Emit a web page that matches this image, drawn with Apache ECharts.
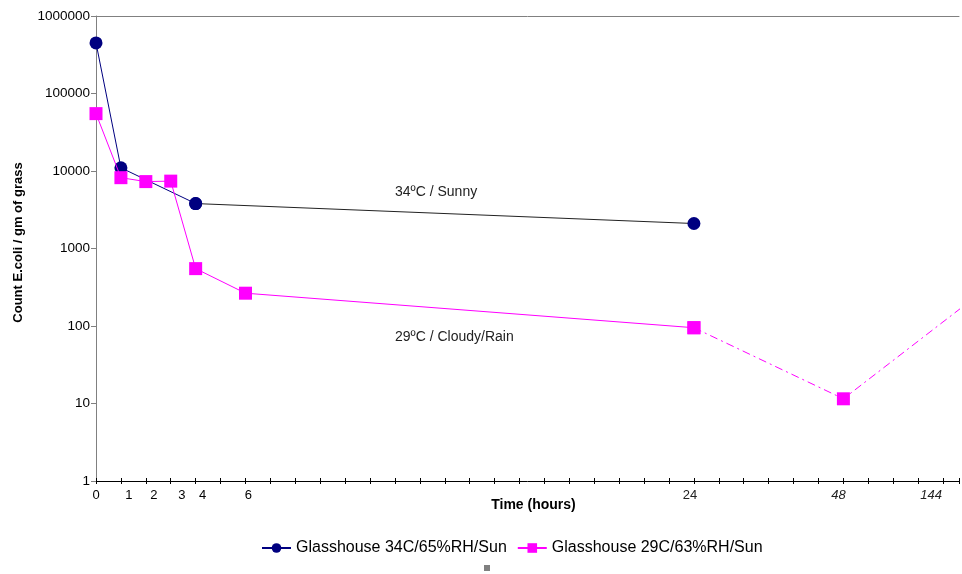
<!DOCTYPE html>
<html>
<head>
<meta charset="utf-8">
<script src="https://cdn.jsdelivr.net/npm/echarts@6/dist/echarts.min.js"></script>
<style>
  html, body { margin: 0; padding: 0; background: #fff; }
  #chart { width: 962px; height: 574px; }
</style>
</head>
<body>
<div id="chart"></div>
<script>
// Axis positions (one unit per tick) and their labels
const tickPositions = [0, 1, 2, 3, 4, 6, 24, 30, 34];
const tickLabels = ['0', '1', '2', '3', '4', '6', '24', '48', '144'];

// Series 1: Glasshouse 34C/65%RH/Sun
const sunnyX = [0, 1, 4, 24];
const sunnyY = [450000, 11000, 3800, 2100];

// Series 2: Glasshouse 29C/63%RH/Sun
const cloudyX = [0, 1, 2, 3, 4, 6, 24, 30, 35];
const cloudyY = [55000, 8200, 7300, 7400, 550, 265, 95, 11.5, 200];

const seriesNames = ['Glasshouse 34C/65%RH/Sun', 'Glasshouse 29C/63%RH/Sun'];

const labelShift = { 0: 0, 1: 8, 2: 8, 3: 11, 4: 7, 6: 3, 24: -4, 30: -5, 34: -12 };
const italicPos = [30, 34];

const rich = {};
tickPositions.forEach(p => {
  const d = labelShift[p] || 0;
  rich['p' + p] = {
    fontFamily: 'Liberation Sans, Arial, sans-serif',
    fontSize: 13,
    color: p >= 24 ? '#222' : '#000',
    fontStyle: italicPos.includes(p) ? 'italic' : 'normal',
    padding: [0, d < 0 ? -2 * d : 0, 0, d > 0 ? 2 * d : 0]
  };
});

const sunnyData = sunnyX.map((x, i) => [x, sunnyY[i]]);
const sunnySplit = sunnyX.indexOf(4);
const sunnyEarly = sunnyData.slice(0, sunnySplit + 1);
const sunnyLate = sunnyData.slice(sunnySplit);

const cloudyAll = cloudyX.map((x, i) => [x, cloudyY[i]]);
const splitIdx = cloudyX.indexOf(24);
const cloudySolid = cloudyAll.slice(0, splitIdx + 1);
const cloudyDashed = cloudyAll.slice(splitIdx);

const XMAX = 866 / 25;
const font = 'Liberation Sans, Arial, sans-serif';

const chart = echarts.init(document.getElementById('chart'));
chart.setOption({
  animation: false,
  backgroundColor: '#fff',
  grid: { left: 96, right: 0, top: 16, bottom: 93 },
  legend: {
    data: seriesNames,
    bottom: 13,
    left: 256,
    itemWidth: 29,
    itemHeight: 12,
    itemGap: 10,
    textStyle: { fontFamily: font, fontSize: 16, color: '#000' }
  },
  xAxis: [
    {
      type: 'value', min: 0, max: XMAX, interval: 1,
      axisLine: { show: true, lineStyle: { color: '#000', width: 1 } },
      axisTick: { show: true, length: 3, lineStyle: { color: '#000' } },
      splitLine: { show: false },
      axisLabel: {
        margin: 8,
        formatter: function (v) {
          const r = Math.round(v);
          if (Math.abs(v - r) > 1e-6) return '';
          const i = tickPositions.indexOf(r);
          if (i < 0) return '';
          return '{p' + r + '|' + tickLabels[i] + '}';
        },
        rich: rich
      },
      name: 'Time (hours)',
      nameLocation: 'middle',
      nameGap: 17,
      nameMoveOverlap: false,
      nameTextStyle: { fontFamily: font, fontSize: 14, fontWeight: 'bold', color: '#000', padding: [0, 0, 0, 12] }
    },
    {
      type: 'value', min: 0, max: XMAX, interval: 1, position: 'bottom',
      axisLine: { show: false },
      axisTick: { show: true, inside: true, length: 3, lineStyle: { color: '#000' } },
      axisLabel: { show: false },
      splitLine: { show: false }
    },
    {
      type: 'value', min: 0, max: XMAX, position: 'top',
      axisLine: { show: true, lineStyle: { color: '#808080', width: 1 } },
      axisTick: { show: false },
      axisLabel: { show: false },
      splitLine: { show: false }
    }
  ],
  yAxis: {
    type: 'log', logBase: 10, min: 1, max: 1000000,
    axisLine: { show: true, lineStyle: { color: '#808080', width: 1 } },
    axisTick: { show: true, length: 5, lineStyle: { color: '#808080' } },
    splitLine: { show: false },
    axisLabel: {
      fontFamily: font, fontSize: 13.5, color: '#000', margin: 6,
      formatter: v => String(Math.round(v))
    },
    name: 'Count E.coli / gm of grass',
    nameLocation: 'middle',
    nameGap: 71,
    nameTextStyle: { fontFamily: font, fontSize: 13, fontWeight: 'bold', color: '#000', padding: [0, 0, 0, 12] }
  },
  series: [
    {
      name: seriesNames[0], type: 'line', xAxisIndex: 0,
      data: sunnyEarly,
      symbol: 'circle', symbolSize: 13,
      itemStyle: { color: '#000080' },
      lineStyle: { color: '#000080', width: 1 },
      z: 2
    },
    {
      name: seriesNames[0], type: 'line', xAxisIndex: 0,
      data: sunnyLate,
      symbol: 'circle', symbolSize: 13,
      itemStyle: { color: '#000080' },
      lineStyle: { color: '#222', width: 1 },
      z: 2
    },
    {
      name: seriesNames[1], type: 'line', xAxisIndex: 0,
      data: cloudySolid,
      symbol: 'rect', symbolSize: 13,
      itemStyle: { color: '#FF00FF' },
      lineStyle: { color: '#FF00FF', width: 1 },
      z: 3
    },
    {
      name: seriesNames[1], type: 'line', xAxisIndex: 0,
      data: cloudyDashed,
      symbol: 'rect', symbolSize: 13,
      itemStyle: { color: '#FF00FF' },
      lineStyle: { color: '#FF00FF', width: 1, type: [8, 4, 2, 4] },
      clip: true,
      z: 3
    }
  ],
  graphic: [
    { type: 'text', left: 395, top: 185, style: { text: '34ºC / Sunny', font: '14px ' + font, fill: '#222' } },
    { type: 'text', left: 395, top: 330, style: { text: '29ºC / Cloudy/Rain', font: '14px ' + font, fill: '#222' } },
    { type: 'rect', shape: { x: 484, y: 565, width: 6, height: 6 }, style: { fill: '#808080' } }
  ]
});
</script>
</body>
</html>
